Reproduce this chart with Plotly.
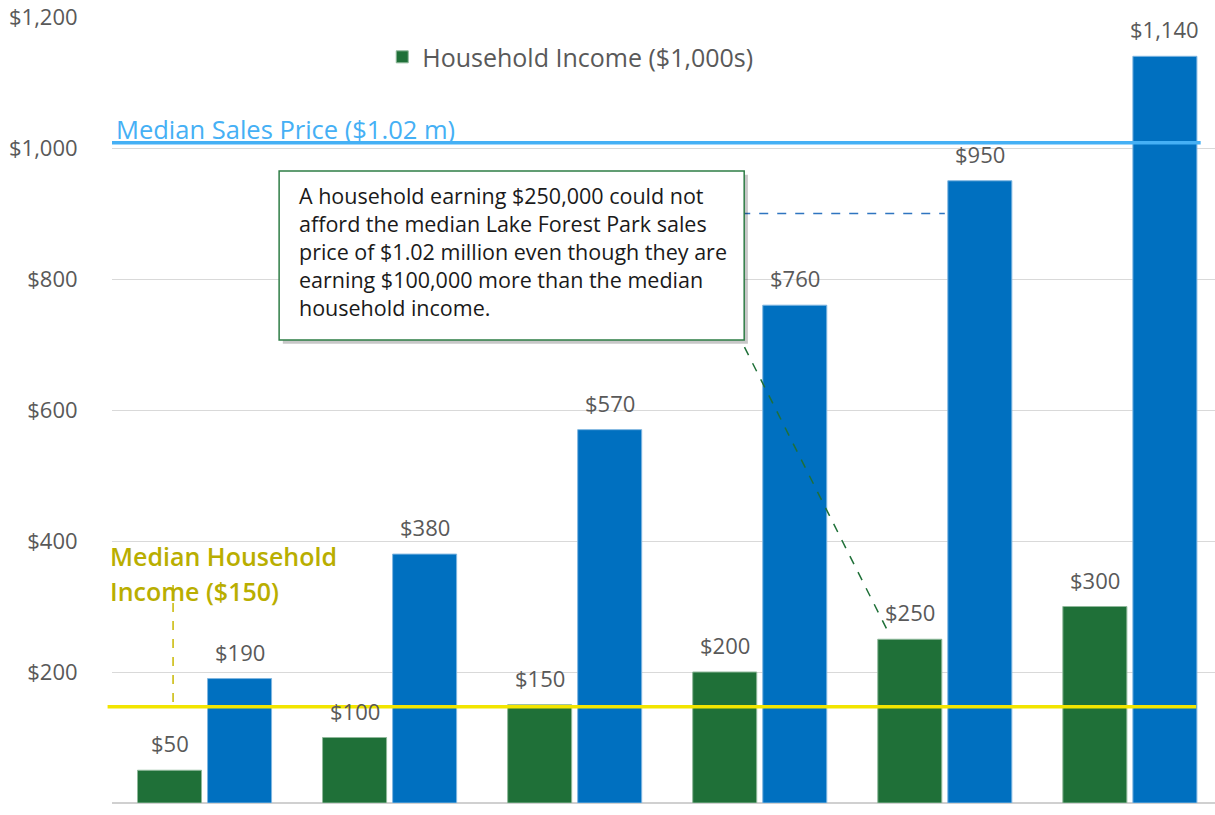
import plotly.graph_objects as go

# ---- data (values in $1,000s) ----
categories = ["$50K", "$100K", "$150K", "$200K", "$250K", "$300K"]
household_income = [50, 100, 150, 200, 250, 300]
affordable_price = [190, 380, 570, 760, 950, 1140]
median_sales_price = 1008      # drawn level of the "$1.02 m" reference line
median_household_income = 147  # drawn level of the "$150" reference line
callout_price = 900            # dashed blue level near the $950 bar
y_ticks = [0, 200, 400, 600, 800, 1000, 1200]
y_tick_text = ["$-", "$200", "$400", "$600", "$800", "$1,000", "$1,200"]

GREEN = "#1f7038"
BLUE = "#0070c0"
LABEL = "#595959"
FONT = "Open Sans"

fig = go.Figure()
fig.add_trace(go.Bar(
    x=categories, y=household_income, name="Household Income ($1,000s)",
    marker=dict(color=GREEN, line=dict(color="#8fb89a", width=1)),
))
fig.add_trace(go.Bar(
    x=categories, y=affordable_price, name="Affordable Home Price ($1,000s)",
    marker=dict(color=BLUE, line=dict(color="#7fb6e0", width=1)),
    showlegend=False,
))

# data labels above each bar
for i, c in enumerate(categories):
    for vals, dx in ((household_income, -35), (affordable_price, 35)):
        v = vals[i]
        fig.add_annotation(x=c, y=v, xshift=dx, yshift=10, yanchor="bottom",
                           text=f"${v:,}", showarrow=False,
                           font=dict(family=FONT, size=22, color=LABEL))

shapes = []
# median sales price line
shapes.append(dict(type="line", xref="paper", x0=0.0, x1=0.987, yref="y",
                   y0=median_sales_price, y1=median_sales_price,
                   line=dict(color="#45b0f5", width=3.5)))
# median household income line
shapes.append(dict(type="line", xref="paper", x0=-0.004, x1=0.983, yref="y",
                   y0=median_household_income, y1=median_household_income,
                   line=dict(color="#f2e500", width=3.5)))
# dashed connector for median income label
shapes.append(dict(type="line", xref="x", yref="y", x0=-0.17, x1=-0.17, y0=333, y1=153,
                   line=dict(color="#c8b800", width=1.5, dash="dash")))
# dashed blue level line
shapes.append(dict(type="line", xref="x", yref="y", x0=2.9, x1=4.0,
                   y0=callout_price, y1=callout_price,
                   line=dict(color="#2f75c0", width=1.5, dash="dash")))
# dashed green pointer to $250 bar
shapes.append(dict(type="line", xref="x", yref="y", x0=2.83, y0=745, x1=3.705, y1=255,
                   line=dict(color="#1f7038", width=1.5, dash="dash")))
# callout box shadow and box
shapes.append(dict(type="rect", xref="x", yref="y", x0=0.403 + 0.02, x1=2.916 + 0.02,
                   y0=707 - 6, y1=965 - 6, fillcolor="rgba(0,0,0,0.22)",
                   line=dict(width=0)))
shapes.append(dict(type="rect", xref="x", yref="y", x0=0.403, x1=2.916, y0=707, y1=965,
                   fillcolor="white", line=dict(color="#2e7d46", width=1.5)))
fig.update_layout(shapes=shapes)

fig.add_annotation(
    x=0.50, y=952, xref="x", yref="y", xanchor="left", yanchor="top", align="left",
    showarrow=False,
    text=("A household earning $250,000 could not<br>"
          "afford the median Lake Forest Park sales<br>"
          "price of $1.02 million even though they are<br>"
          "earning $100,000 more than the median<br>"
          "household income."),
    font=dict(family=FONT, size=21.5, color="#1a1a1a"),
)
fig.add_annotation(
    xref="paper", x=0.002, y=median_sales_price, yshift=14, xanchor="left", yanchor="middle",
    text="Median Sales Price ($1.02 m)", showarrow=False,
    font=dict(family=FONT, size=25.5, color="#45b0f5"),
)
for txt, yy in (("Median Household", 377), ("Income ($150)", 324)):
    fig.add_annotation(
        xref="paper", x=-0.004, y=yy, xanchor="left", yanchor="middle",
        text=txt, showarrow=False,
        font=dict(family=FONT, size=25, color="#b9ae00", weight=600),
    )

fig.update_layout(
    width=1215, height=815,
    margin=dict(l=112, r=0, t=17, b=12),
    plot_bgcolor="white", paper_bgcolor="white",
    barmode="group", bargap=0.243, bargroupgap=0.086,
    font=dict(family=FONT, color=LABEL),
    legend=dict(orientation="h", x=0.245, y=0.949, xanchor="left", yanchor="middle",
                font=dict(family=FONT, size=25, color=LABEL), bgcolor="rgba(0,0,0,0)"),
    xaxis=dict(range=[-0.5, 5.46], showticklabels=False, showgrid=False,
               showline=False, zeroline=False, ticks="", automargin=False),
    yaxis=dict(range=[0, 1200], tickvals=y_ticks, ticktext=y_tick_text,
               showgrid=True, gridcolor="#d9d9d9", gridwidth=1,
               zeroline=True, zerolinecolor="#d0d0d0", zerolinewidth=2,
               tickfont=dict(family=FONT, size=22, color=LABEL), automargin=False,
               ticks="outside", ticklen=0, ticklabelstandoff=29),
)

fig.write_html("out.html", config={"displayModeBar": False},
               post_script="document.body.style.margin='0';document.body.style.overflow='hidden';")
